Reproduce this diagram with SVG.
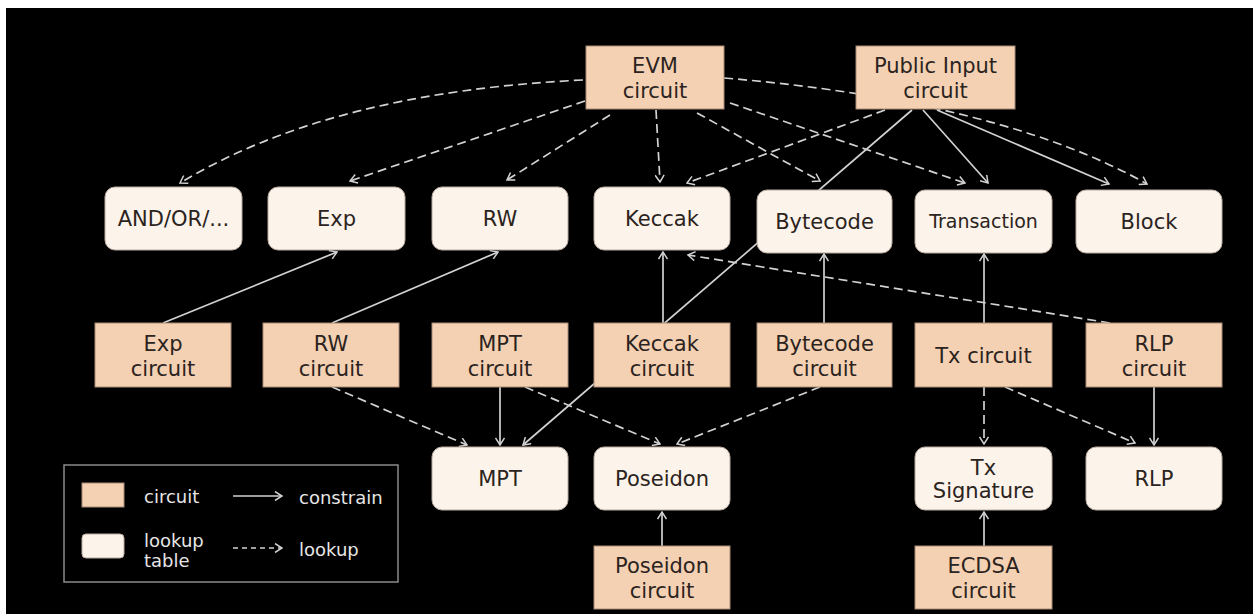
<svg xmlns="http://www.w3.org/2000/svg" width="1253" height="614" viewBox="0 0 1253 614">
  <style>
    .circuit { fill: #f4d1b3; stroke: #a88b76; stroke-width: 1; }
    .table { fill: #fcf3ea; stroke: #b8aaa0; stroke-width: 1; }
    .lbl { font-family: "DejaVu Sans", Verdana, sans-serif; font-size: 21px; fill: #2b2320; text-anchor: middle; }
    .small { font-size: 19px; }
    .solid { fill: none; stroke: #d2d2d2; stroke-width: 1.7; marker-end: url(#arr); }
    .dash { fill: none; stroke: #d2d2d2; stroke-width: 1.7; stroke-dasharray: 9 5; marker-end: url(#arr); }
    .legend-text { font-family: "DejaVu Sans", Verdana, sans-serif; font-size: 18px; fill: #e6e6e6; }
  </style>
  <defs>
    <marker id="arr" viewBox="0 0 10 10" refX="9" refY="5" markerWidth="10" markerHeight="10" markerUnits="userSpaceOnUse" orient="auto">
      <path d="M2,0.5 L9,5 L2,9.5" fill="none" stroke="#d2d2d2" stroke-width="1.5"/>
    </marker>
  </defs>

  <!-- canvas -->
  <rect x="0" y="0" width="1253" height="614" fill="#ffffff"/>
  <rect x="6" y="8" width="1247" height="606" fill="#000000"/>

  <!-- connectors -->
  <g id="connectors">
    <!-- EVM circuit lookups -->
    <path class="dash" d="M583,80 Q330,92 180,183"/>
    <path class="dash" d="M585,101 L350,181"/>
    <path class="dash" d="M610,115 L507,180"/>
    <path class="dash" d="M656,110 L660,182"/>
    <path class="dash" d="M697,113 L820,181"/>
    <path class="dash" d="M730,103 L965,183"/>
    <path class="dash" d="M724,78 Q1000,101 1147,184"/>
    <!-- Public Input circuit -->
    <path class="dash" d="M885,110 L687,183"/>
    <path class="solid" d="M912,110 L523,445"/>
    <path class="solid" d="M923,110 L988,183"/>
    <path class="solid" d="M937,110 L1109,184"/>
    <!-- middle circuits to upper tables -->
    <path class="solid" d="M163,323 L337,252"/>
    <path class="solid" d="M332,323 L498,252"/>
    <path class="solid" d="M663,323 L663,252"/>
    <path class="solid" d="M824,323 L824,254"/>
    <path class="solid" d="M984,323 L984,254"/>
    <path class="dash" d="M1110,323 L688,255"/>
    <!-- middle circuits to lower tables -->
    <path class="dash" d="M332,387 L467,445"/>
    <path class="solid" d="M500,387 L500,445"/>
    <path class="dash" d="M525,387 L660,444"/>
    <path class="dash" d="M820,387 L677,444"/>
    <path class="dash" d="M984,387 L984,444"/>
    <path class="dash" d="M1005,387 L1135,443"/>
    <path class="solid" d="M1154,387 L1154,445"/>
    <!-- bottom circuits -->
    <path class="solid" d="M662,546 L662,512"/>
    <path class="solid" d="M984,546 L984,512"/>
  </g>

  <!-- top circuits -->
  <g id="evm-circuit">
    <rect class="circuit" x="586" y="46" width="138" height="63"/>
    <text class="lbl" x="655" y="73">EVM</text>
    <text class="lbl" x="655" y="98">circuit</text>
  </g>
  <g id="public-input-circuit">
    <rect class="circuit" x="856" y="46" width="159" height="63"/>
    <text class="lbl" x="935.5" y="73">Public Input</text>
    <text class="lbl" x="935.5" y="98">circuit</text>
  </g>

  <!-- upper lookup tables -->
  <g id="and-or-table">
    <rect class="table" x="105" y="187" width="137" height="63" rx="10"/>
    <text class="lbl" x="173.5" y="226">AND/OR/...</text>
  </g>
  <g id="exp-table">
    <rect class="table" x="268" y="187" width="137" height="63" rx="10"/>
    <text class="lbl" x="336.5" y="226">Exp</text>
  </g>
  <g id="rw-table">
    <rect class="table" x="432" y="187" width="136" height="63" rx="10"/>
    <text class="lbl" x="500" y="226">RW</text>
  </g>
  <g id="keccak-table">
    <rect class="table" x="594" y="187" width="136" height="63" rx="10"/>
    <text class="lbl" x="662" y="226">Keccak</text>
  </g>
  <g id="bytecode-table">
    <rect class="table" x="757" y="190" width="135" height="63" rx="10"/>
    <text class="lbl" x="824.5" y="229">Bytecode</text>
  </g>
  <g id="transaction-table">
    <rect class="table" x="915" y="190" width="137" height="63" rx="10"/>
    <text class="lbl small" x="983.5" y="228">Transaction</text>
  </g>
  <g id="block-table">
    <rect class="table" x="1076" y="190" width="146" height="63" rx="10"/>
    <text class="lbl" x="1149" y="229">Block</text>
  </g>

  <!-- middle circuits -->
  <g id="exp-circuit">
    <rect class="circuit" x="95" y="323" width="136" height="64"/>
    <text class="lbl" x="163" y="351">Exp</text>
    <text class="lbl" x="163" y="376">circuit</text>
  </g>
  <g id="rw-circuit">
    <rect class="circuit" x="263" y="323" width="136" height="64"/>
    <text class="lbl" x="331" y="351">RW</text>
    <text class="lbl" x="331" y="376">circuit</text>
  </g>
  <g id="mpt-circuit">
    <rect class="circuit" x="432" y="323" width="136" height="64"/>
    <text class="lbl" x="500" y="351">MPT</text>
    <text class="lbl" x="500" y="376">circuit</text>
  </g>
  <g id="keccak-circuit">
    <rect class="circuit" x="594" y="323" width="136" height="64"/>
    <text class="lbl" x="662" y="351">Keccak</text>
    <text class="lbl" x="662" y="376">circuit</text>
  </g>
  <g id="bytecode-circuit">
    <rect class="circuit" x="757" y="323" width="135" height="64"/>
    <text class="lbl" x="824.5" y="351">Bytecode</text>
    <text class="lbl" x="824.5" y="376">circuit</text>
  </g>
  <g id="tx-circuit">
    <rect class="circuit" x="915" y="323" width="137" height="64"/>
    <text class="lbl" x="983.5" y="363">Tx circuit</text>
  </g>
  <g id="rlp-circuit">
    <rect class="circuit" x="1086" y="323" width="136" height="64"/>
    <text class="lbl" x="1154" y="351">RLP</text>
    <text class="lbl" x="1154" y="376">circuit</text>
  </g>

  <!-- lower lookup tables -->
  <g id="mpt-table">
    <rect class="table" x="432" y="447" width="136" height="63" rx="10"/>
    <text class="lbl" x="500" y="486">MPT</text>
  </g>
  <g id="poseidon-table">
    <rect class="table" x="594" y="447" width="136" height="63" rx="10"/>
    <text class="lbl" x="662" y="486">Poseidon</text>
  </g>
  <g id="tx-signature-table">
    <rect class="table" x="915" y="447" width="137" height="63" rx="10"/>
    <text class="lbl" x="983.5" y="475">Tx</text>
    <text class="lbl" x="983.5" y="498">Signature</text>
  </g>
  <g id="rlp-table">
    <rect class="table" x="1086" y="447" width="136" height="63" rx="10"/>
    <text class="lbl" x="1154" y="486">RLP</text>
  </g>

  <!-- bottom circuits -->
  <g id="poseidon-circuit">
    <rect class="circuit" x="594" y="546" width="136" height="63"/>
    <text class="lbl" x="662" y="573">Poseidon</text>
    <text class="lbl" x="662" y="598">circuit</text>
  </g>
  <g id="ecdsa-circuit">
    <rect class="circuit" x="915" y="546" width="137" height="63"/>
    <text class="lbl" x="983.5" y="573">ECDSA</text>
    <text class="lbl" x="983.5" y="598">circuit</text>
  </g>

  <!-- legend -->
  <g id="legend">
    <rect x="64" y="465" width="334" height="117" fill="none" stroke="#8a8a8a" stroke-width="1.5"/>
    <rect class="circuit" x="82" y="483" width="42" height="24"/>
    <rect class="table" x="82" y="534" width="42" height="24" rx="4"/>
    <text class="legend-text" x="144" y="503">circuit</text>
    <text class="legend-text" x="144" y="547">lookup</text>
    <text class="legend-text" x="144" y="567">table</text>
    <path class="solid" d="M233,496 L282,496"/>
    <path class="dash" style="stroke-dasharray:5 4" d="M233,548 L282,548"/>
    <text class="legend-text" x="299" y="504">constrain</text>
    <text class="legend-text" x="299" y="556">lookup</text>
  </g>
</svg>
